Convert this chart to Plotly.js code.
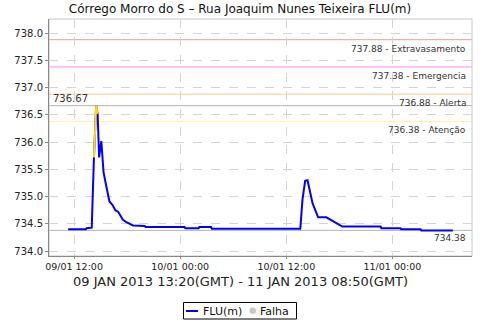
<!DOCTYPE html>
<html>
<head>
<meta charset="utf-8">
<script src="https://cdn.plot.ly/plotly-3.0.1.min.js"></script>
<style>html,body{margin:0;padding:0;background:#fff;}#chart{width:480px;height:320px;}</style>
</head>
<body>
<div id="chart"></div>
<script>
// Series FLU(m), local time
const times = [
  '2013-01-09 11:20','2013-01-09 13:20','2013-01-09 13:25','2013-01-09 14:00',
  '2013-01-09 14:15','2013-01-09 14:30','2013-01-09 14:40','2013-01-09 14:50',
  '2013-01-09 15:05','2013-01-09 15:20','2013-01-09 15:35','2013-01-09 16:00',
  '2013-01-09 16:20','2013-01-09 16:40','2013-01-09 17:00','2013-01-09 17:30',
  '2013-01-09 17:55','2013-01-09 18:40','2013-01-09 20:00','2013-01-09 20:05',
  '2013-01-10 00:30','2013-01-10 00:35','2013-01-10 02:05','2013-01-10 02:10',
  '2013-01-10 03:30','2013-01-10 03:35','2013-01-10 13:35','2013-01-10 13:50',
  '2013-01-10 14:08','2013-01-10 14:24','2013-01-10 14:58','2013-01-10 15:36',
  '2013-01-10 16:32','2013-01-10 17:36','2013-01-10 18:20','2013-01-10 22:40',
  '2013-01-10 22:45','2013-01-11 00:55','2013-01-11 01:00','2013-01-11 03:11',
  '2013-01-11 03:16','2013-01-11 06:50'
];
const values = [
  734.40,734.40,734.42,734.43,
  735.72,736.67,736.52,735.72,
  736.02,735.45,735.24,734.91,
  734.85,734.75,734.72,734.58,
  734.53,734.47,734.46,734.44,
  734.44,734.42,734.42,734.44,
  734.44,734.41,734.41,734.95,
  735.29,735.30,734.88,734.62,
  734.62,734.51,734.45,734.45,
  734.42,734.42,734.40,734.40,
  734.38,734.38
];
// Segment flagged (above attention level), drawn in yellow
const alertTimes = ['2013-01-09 14:15','2013-01-09 14:30','2013-01-09 14:40'];
const alertValues = [735.72, 736.67, 736.52];

// Threshold levels
const levelValues = [737.88, 737.38, 736.88, 736.38];
const levelNames = ['Extravasamento', 'Emergencia', 'Alerta', 'Atenção'];
const levelColors = ['#f29a9a', '#ff88ff', '#ffc88c', '#fff0a8'];
const maxValue = 736.67;
const minValue = 734.38;

const tickVals = ['2013-01-09 12:00','2013-01-10 00:00','2013-01-10 12:00','2013-01-11 00:00'];
const tickText = ['09/01 12:00','10/01 00:00','10/01 12:00','11/01 00:00'];
const yTicks = [734.0,734.5,735.0,735.5,736.0,736.5,737.0,737.5,738.0];
const seriesNames = ['FLU(m)', 'Falha'];

const traces = [
  {x: times, y: values, type: 'scatter', mode: 'lines', name: seriesNames[0],
   line: {color: '#0000ff', width: 2}},
  {x: alertTimes, y: alertValues, type: 'scatter', mode: 'lines', showlegend: false,
   line: {color: '#ffdd00', width: 2}}
];

const txtFont = {family: 'DejaVu Sans', size: 9, color: '#333'};
const shapes = [];
const annotations = [];
levelValues.forEach((v, i) => {
  shapes.push({type: 'line', xref: 'paper', yref: 'y', x0: 0, x1: 1, y0: v, y1: v,
    line: {color: levelColors[i], width: 1}, layer: 'below'});
  annotations.push({xref: 'paper', yref: 'y', x: 0.99, y: v, xanchor: 'right', yanchor: 'top',
    yshift: -2, showarrow: false, text: v.toFixed(2) + ' - ' + levelNames[i], font: txtFont});
});
[maxValue, minValue].forEach(v => {
  shapes.push({type: 'line', xref: 'paper', yref: 'y', x0: 0, x1: 1, y0: v, y1: v,
    line: {color: '#b4b4b4', width: 1}, layer: 'below'});
});
annotations.push({xref: 'paper', yref: 'y', x: 0.005, y: maxValue, xanchor: 'left', yanchor: 'bottom',
  showarrow: false, text: maxValue.toFixed(2), font: {family: 'DejaVu Sans', size: 10, color: '#333'}});
annotations.push({xref: 'paper', yref: 'y', x: 0.99, y: minValue, xanchor: 'right', yanchor: 'top',
  yshift: -1, showarrow: false, text: minValue.toFixed(2), font: txtFont});
annotations.push({xref: 'paper', yref: 'paper', x: 0.452, y: -0.108, xanchor: 'center', yanchor: 'middle',
  showarrow: false, text: '09 JAN 2013 13:20(GMT) - 11 JAN 2013 08:50(GMT)',
  font: {family: 'DejaVu Sans', size: 13, color: '#222'}});

// Custom legend (pixel positions converted to paper coords; plot area 49..472 x 19..256)
const px = x => (x - 49) / 423;
const py = y => (256 - y) / 237;
shapes.push({type: 'rect', xref: 'paper', yref: 'paper', x0: px(183.5), x1: px(296.5), y0: py(302.5), y1: py(319),
  line: {color: '#000', width: 1}, fillcolor: '#fff'});
shapes.push({type: 'line', xref: 'paper', yref: 'paper', x0: px(186), x1: px(198), y0: py(311), y1: py(311),
  line: {color: '#0000ff', width: 2}});
shapes.push({type: 'circle', xref: 'paper', yref: 'paper', x0: px(249.5), x1: px(256), y0: py(307.5), y1: py(314),
  line: {color: '#c8c8c8', width: 0}, fillcolor: '#c8c8c8'});
annotations.push({xref: 'paper', yref: 'paper', x: px(201), y: py(311), xanchor: 'left', yanchor: 'middle',
  showarrow: false, text: seriesNames[0], font: {family: 'DejaVu Sans', size: 11, color: '#111'}});
annotations.push({xref: 'paper', yref: 'paper', x: px(257.5), y: py(311), xanchor: 'left', yanchor: 'middle',
  showarrow: false, text: seriesNames[1], font: {family: 'DejaVu Sans', size: 11, color: '#111'}});

const layout = {
  width: 480, height: 320,
  margin: {l: 49, r: 8, t: 19, b: 64},
  paper_bgcolor: '#fff', plot_bgcolor: '#fff',
  title: {text: 'Córrego Morro do S – Rua Joaquim Nunes Teixeira FLU(m)',
    font: {family: 'DejaVu Sans', size: 12, color: '#111'}, x: 0.5, xanchor: 'center', y: 0.972, yanchor: 'middle'},
  xaxis: {type: 'date', range: ['2013-01-09 09:10','2013-01-11 09:00'],
    tickvals: tickVals, ticktext: tickText, ticks: 'outside', ticklen: 2, tickcolor: '#888',
    tickfont: {family: 'DejaVu Sans', size: 9.5, color: '#222'},
    showgrid: true, gridcolor: '#d4d4d4', griddash: 'dash', gridwidth: 1,
    showline: true, linecolor: '#888', mirror: false, zeroline: false, automargin: false},
  yaxis: {range: [733.91, 738.26], tickvals: yTicks, ticktext: yTicks.map(v => v.toFixed(1)),
    ticks: 'outside', ticklen: 3, tickcolor: '#888',
    tickfont: {family: 'DejaVu Sans', size: 10, color: '#222'},
    showgrid: true, gridcolor: '#d4d4d4', griddash: 'dash', gridwidth: 1,
    showline: true, linecolor: '#888', zeroline: false, automargin: false},
  shapes: shapes.concat([{type: 'rect', xref: 'paper', yref: 'paper', x0: 0, x1: 1, y0: 0, y1: 1,
    line: {color: '#c8c8c8', width: 1}, layer: 'below'}]),
  annotations: annotations,
  showlegend: false
};

Plotly.newPlot('chart', traces, layout, {displayModeBar: false, staticPlot: true});
</script>
</body>
</html>
